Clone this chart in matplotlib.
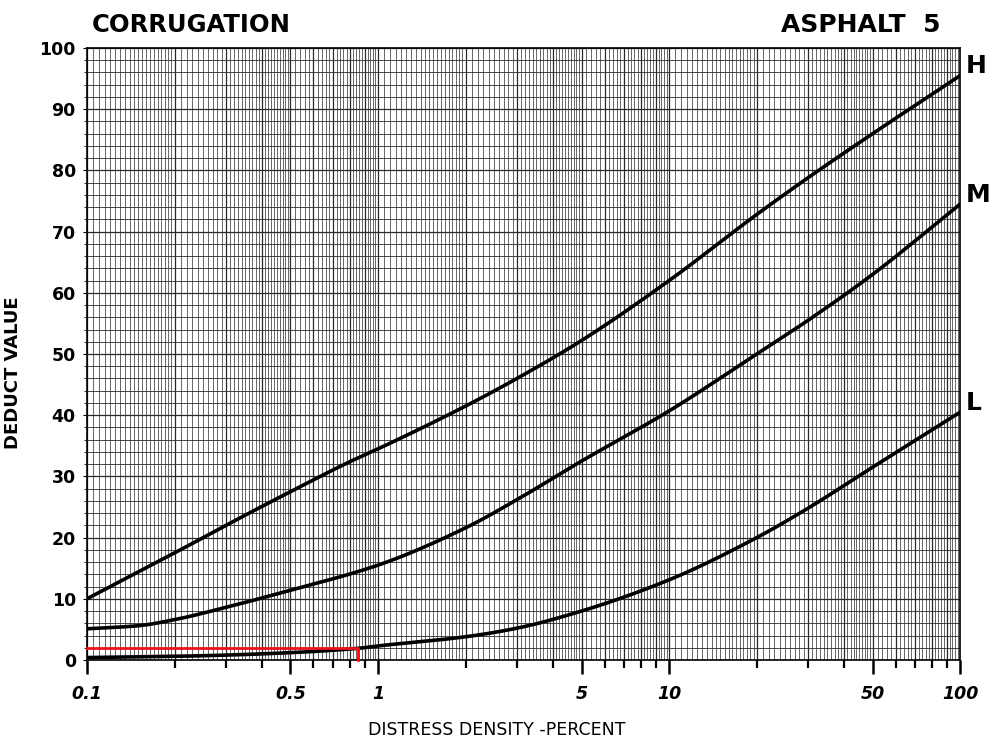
import numpy as np
import matplotlib
matplotlib.use("Agg")
import matplotlib.pyplot as plt

# ---- data ----
h_x = [0.1, 0.2, 0.3, 0.5, 0.8, 1, 2, 3, 5, 10, 20, 30, 50, 100]
h_y = [10, 17.5, 22, 27.5, 32.4, 34.5, 41.5, 46, 52.2, 62, 72.8, 78.8, 86, 95.5]
m_x = [0.1, 0.15, 0.2, 0.3, 0.5, 1, 2, 3, 5, 10, 20, 30, 50, 100]
m_y = [5.1, 5.6, 6.6, 8.6, 11.4, 15.5, 21.6, 26.2, 32.5, 40.7, 50, 55.5, 63, 74.5]
l_x = [0.1, 0.2, 0.3, 0.5, 0.85, 1, 2, 3, 5, 10, 20, 30, 50, 100]
l_y = [0.4, 0.6, 0.8, 1.2, 1.9, 2.3, 3.8, 5.2, 8, 13.1, 20, 24.8, 31.5, 40.5]
curve_names = ["H", "M", "L"]
red_x = [0.1, 0.85, 0.85]
red_y = [2, 2, 0]
xtick_vals = [0.1, 0.5, 1, 5, 10, 50, 100]
xtick_labels = ["0.1", "0.5", "1", "5", "10", "50", "100"]
ytick_vals = list(range(0, 101, 10))


def pchip(x, y, xn):
    x = np.asarray(x, float); y = np.asarray(y, float)
    h = np.diff(x); d = np.diff(y) / h
    m = np.zeros_like(y)
    for k in range(1, len(x) - 1):
        if d[k - 1] * d[k] > 0:
            w1 = 2 * h[k] + h[k - 1]; w2 = h[k] + 2 * h[k - 1]
            m[k] = (w1 + w2) / (w1 / d[k - 1] + w2 / d[k])
    m[0] = d[0]; m[-1] = d[-1]
    idx = np.clip(np.searchsorted(x, xn) - 1, 0, len(x) - 2)
    t = (xn - x[idx]) / h[idx]
    h00 = 2 * t**3 - 3 * t**2 + 1; h10 = t**3 - 2 * t**2 + t
    h01 = -2 * t**3 + 3 * t**2; h11 = t**3 - t**2
    return h00 * y[idx] + h10 * h[idx] * m[idx] + h01 * y[idx + 1] + h11 * h[idx] * m[idx + 1]


fig = plt.figure(figsize=(9.94, 7.42), dpi=100)
ax = fig.add_axes([0.0875, 0.1105, 0.8785, 0.8248])
ax.set_xscale("log")
ax.set_xlim(0.1, 100)
ax.set_ylim(0, 100)

# grid of log paper
vlines = []
for dec in [0.1, 1, 10]:
    vlines += list(np.arange(1, 2, 0.05) * dec)
    vlines += list(np.arange(2, 5, 0.1) * dec)
    vlines += list(np.arange(5, 10, 0.2) * dec)
for v in vlines:
    r = v / 10 ** np.floor(np.log10(v) + 1e-9)
    major = abs(r - round(r)) < 1e-6
    ax.axvline(v, color="#2a2a2a", lw=0.9 if major else 0.5, zorder=1)
for yv in range(0, 101, 2):
    ax.axhline(yv, color="#2a2a2a", lw=0.9 if yv % 10 == 0 else 0.6, zorder=1)

for xs, ys in [(h_x, h_y), (m_x, m_y), (l_x, l_y)]:
    lx = np.linspace(-1, 2, 400)
    yy = pchip(np.log10(xs), ys, lx)
    ax.plot(10 ** lx, yy, color="black", lw=2.6, zorder=3, solid_capstyle="round")

ax.plot(red_x, red_y, color="#e8141b", lw=2, zorder=4, clip_on=False)

for name, ys in zip(curve_names, [h_y, m_y, l_y]):
    ax.text(1.006, ys[-1] / 100 + 0.015, name, transform=ax.transAxes,
            fontsize=18, fontweight="bold", ha="left", va="center")

ax.set_xticks(xtick_vals)
ax.set_xticklabels(xtick_labels, fontsize=12.5, fontweight="bold", style="italic")
minor = [v * d for d in [0.1, 1, 10] for v in range(2, 10) if v != 5]
ax.set_xticks(minor, minor=True)
ax.xaxis.set_minor_formatter(matplotlib.ticker.NullFormatter())
ax.tick_params(axis="x", which="major", length=10, width=1.8, direction="out", pad=8)
ax.tick_params(axis="x", which="minor", length=6, width=1.6, direction="out")
ax.set_yticks(ytick_vals)
ax.set_yticklabels([str(v) for v in ytick_vals], fontsize=12.5, fontweight="bold")
ax.set_yticks(list(range(0, 101, 2)), minor=True)
ax.tick_params(axis="y", which="major", length=3, pad=5)
ax.tick_params(axis="y", which="minor", length=2)
for s in ax.spines.values():
    s.set_linewidth(1.2)

ax.set_ylabel("DEDUCT VALUE", fontsize=13, fontweight="bold")
ax.yaxis.set_label_coords(-0.074, 0.47)
fig.text(0.5, 0.004, "DISTRESS DENSITY -PERCENT", ha="center", va="bottom", fontsize=12.5)
fig.text(0.092, 0.966, "CORRUGATION", ha="left", va="center", fontsize=17.5, fontweight="bold")
fig.text(0.946, 0.966, "ASPHALT  5", ha="right", va="center", fontsize=18, fontweight="bold")

fig.savefig("out.png", dpi=100)
